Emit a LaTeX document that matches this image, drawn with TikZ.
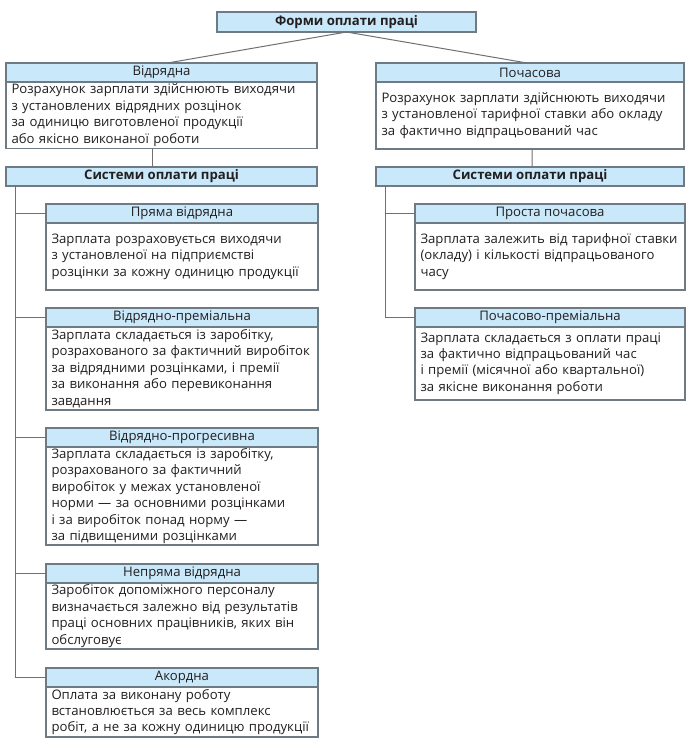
\documentclass[tikz,border=0pt]{standalone}
\usepackage{fontspec}
\setmainfont{Open Sans}
\usetikzlibrary{calc}
\definecolor{hdrfill}{HTML}{C9E8F9}
\definecolor{bordc}{HTML}{6E7B85}
\definecolor{linec}{HTML}{707070}
\definecolor{txtc}{HTML}{231F20}
\tikzset{
  hdr/.style={draw=bordc, fill=hdrfill, line width=1.1bp, inner sep=0pt, outer sep=0pt,
    anchor=north west, font=\fontsize{13.2}{16}\selectfont, text=txtc},
  body/.style={draw=bordc, fill=white, line width=1.1bp, inner ysep=0pt, inner xsep=5.5bp, outer sep=0pt,
    anchor=north west, align=left, font=\fontsize{13.2}{16.5}\selectfont, text=txtc},
  conn/.style={draw=linec, line width=1bp}
}
% name, x1, y1, x2, yh, y2, title, body
\newcommand\mytwobox[8]{%
  \pgfmathsetmacro\bw{#4-#2}%
  \pgfmathsetmacro\hh{#5-#3}%
  \pgfmathsetmacro\bh{#6-#5}%
  \pgfmathsetmacro\tw{#4-#2-11}%
  \node[body, text width=\tw bp, minimum height=\bh bp] (#1b) at (#2,#5) {#8};
  \node[hdr, minimum width=\bw bp, minimum height=\hh bp] (#1h) at (#2,#3) {#7};
}
\newcommand\myhdrbox[6]{%
  \pgfmathsetmacro\bw{#4-#2}%
  \pgfmathsetmacro\hh{#5-#3}%
  \node[hdr, minimum width=\bw bp, minimum height=\hh bp] (#1h) at (#2,#3) {#6};
}
\begin{document}
\begin{tikzpicture}[x=1bp,y=-1bp]
\useasboundingbox (0,0) rectangle (694,742);
\fill[white] (0,0) rectangle (694,742);

\myhdrbox{top}{217}{12}{476}{32}{\bfseries Форми оплати праці}

\mytwobox{vid}{6}{63}{317}{82}{148.5}{Відрядна}{Розрахунок зарплати здійснюють виходячи\\ з установлених відрядних розцінок\\ за одиницю виготовленої продукції\\ або якісно виконаної роботи}
\mytwobox{poch}{376}{63}{684}{82}{149}{Почасова}{Розрахунок зарплати здійснюють виходячи\\ з установленої тарифної ставки або окладу\\ за фактично відпрацьований час}

\myhdrbox{sysL}{6}{167}{317}{186}{\bfseries Системи оплати праці}
\myhdrbox{sysR}{376}{167}{684}{186}{\bfseries Системи оплати праці}

\mytwobox{pryama}{46}{204}{318}{223}{290}{Пряма відрядна}{Зарплата розраховується виходячи\\ з установленої на підприємстві\\ розцінки за кожну одиницю продукції}
\mytwobox{prem}{46}{308}{318}{327}{410}{Відрядно-преміальна}{Зарплата складається із заробітку,\\ розрахованого за фактичний виробіток\\ за відрядними розцінками, і премії\\ за виконання або перевиконання\\ завдання}
\mytwobox{progr}{46}{428}{318}{447}{545}{Відрядно-прогресивна}{Зарплата складається із заробітку,\\ розрахованого за фактичний\\ виробіток у межах установленої\\ норми — за основними розцінками\\ і за виробіток понад норму —\\ за підвищеними розцінками}
\mytwobox{nepr}{46}{564}{318}{583}{649}{Непряма відрядна}{Заробіток допоміжного персоналу\\ визначається залежно від результатів\\ праці основних працівників, яких він\\ обслуговує}
\mytwobox{akord}{46}{668}{318}{687}{737}{Акордна}{Оплата за виконану роботу\\ встановлюється за весь комплекс\\ робіт, а не за кожну одиницю продукції}

\mytwobox{prosta}{415}{204}{685}{223}{290}{Проста почасова}{Зарплата залежить від тарифної ставки\\ (окладу) і кількості відпрацьованого\\ часу}
\mytwobox{pprem}{415}{308}{685}{327}{400}{Почасово-преміальна}{Зарплата складається з оплати праці\\ за фактично відпрацьований час\\ і премії (місячної або квартальної)\\ за якісне виконання роботи}

% connectors
\draw[conn] (toph.south) -- ([xshift=6bp]vidh.north);
\draw[conn] (toph.south) -- ([xshift=-3bp]pochh.north);
\draw[conn] ([xshift=-9bp]vidb.south) -- ([xshift=-9bp]sysLh.north);
\draw[conn] ([xshift=2bp]pochb.south) -- ([xshift=2bp]sysRh.north);

\coordinate (tL) at ([xshift=9bp]sysLh.south west);
\draw[conn] (tL) |- (akordh.west);
\foreach \n in {pryamah,premh,progrh,neprh}{
  \draw[conn] (tL |- \n.west) -- (\n.west);
}
\coordinate (tR) at ([xshift=9bp]sysRh.south west);
\draw[conn] (tR) |- (ppremh.west);
\draw[conn] (tR |- prostah.west) -- (prostah.west);
\end{tikzpicture}
\end{document}
